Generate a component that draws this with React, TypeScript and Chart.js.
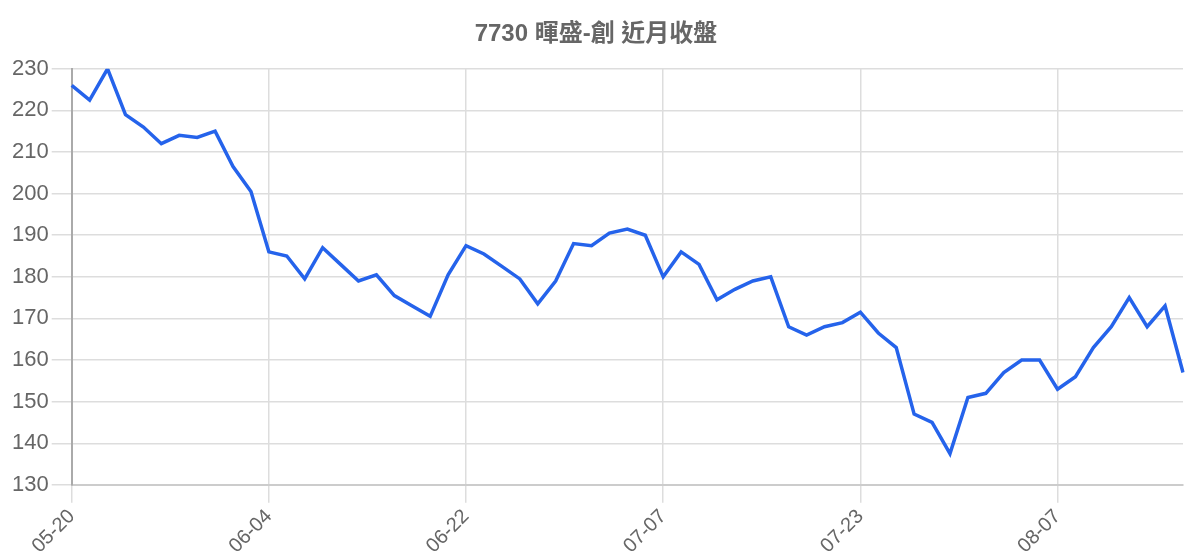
import { useEffect, useRef } from "react"
import { Chart, registerables } from "chart.js"

Chart.register(...registerables)

const title = "7730 暉盛-創 近月收盤"

const dates = [
  "05-20", "05-21", "05-22", "05-23", "05-24", "05-27", "05-28", "05-29", "05-30", "05-31", "06-03",
  "06-04", "06-05", "06-06", "06-07", "06-11", "06-12", "06-13", "06-14", "06-17", "06-18", "06-19",
  "06-22", "06-24", "06-25", "06-26", "06-27", "06-28", "07-01", "07-02", "07-03", "07-04", "07-05",
  "07-07", "07-08", "07-09", "07-10", "07-11", "07-12", "07-15", "07-16", "07-17", "07-18", "07-19",
  "07-23", "07-24", "07-25", "07-26", "07-29", "07-30", "07-31", "08-01", "08-02", "08-05", "08-06",
  "08-07", "08-08", "08-09", "08-12", "08-13", "08-14", "08-15", "08-16",
]

const closes = [
  226, 222.5, 230, 219, 216, 212, 214, 213.5, 215, 206.5, 200.5,
  186, 185, 179.5, 187, 183, 179, 180.5, 175.5, 173, 170.5, 180.5,
  187.5, 185.5, 182.5, 179.5, 173.5, 179, 188, 187.5, 190.5, 191.5, 190,
  180, 186, 183, 174.5, 177, 179, 180, 168, 166, 168, 169,
  171.5, 166.5, 163, 147, 145, 137.5, 151, 152, 157, 160, 160,
  153, 156, 163, 168, 175, 168, 173, 157,
]

const labelEvery = 11
const yMin = 130
const yMax = 230

const fontFamily = "'Liberation Sans', Arial, 'Noto Sans CJK TC', sans-serif"

export default function App() {
  const chartRef = useRef<HTMLCanvasElement>(null)
  const chartInstance = useRef<Chart | null>(null)

  useEffect(() => {
    document.body.style.margin = "0"
    const canvas = chartRef.current
    if (!canvas) return
    const ctx = canvas.getContext("2d")
    if (!ctx) return

    if (chartInstance.current) {
      chartInstance.current.destroy()
    }

    chartInstance.current = new Chart(ctx, {
      type: "line",
      data: {
        labels: dates,
        datasets: [
          {
            label: "收盤",
            data: closes,
            borderColor: "#2563eb",
            borderWidth: 3.5,
            pointRadius: 0,
            tension: 0,
            fill: false,
          },
        ],
      },
      options: {
        responsive: true,
        maintainAspectRatio: false,
        animation: false,
        layout: {
          padding: { left: 9, right: 17, top: 0, bottom: 0 },
        },
        plugins: {
          legend: { display: false },
          tooltip: { enabled: false },
          title: {
            display: true,
            text: title,
            color: "#666",
            font: { family: fontFamily, size: 24, weight: "bold" },
            padding: { top: 20, bottom: 20 },
          },
        },
        scales: {
          x: {
            ticks: {
              color: "#666",
              font: { family: fontFamily, size: 20 },
              autoSkip: false,
              maxRotation: 45,
              minRotation: 45,
              padding: 2,
              callback: (_v, i) => (i % labelEvery === 0 ? dates[i] : null),
            },
            grid: {
              color: "#dddddd",
              lineWidth: 1.5,
              tickLength: 18,
            },
            border: { color: "#cccccc", width: 2 },
          },
          y: {
            min: yMin,
            max: yMax,
            ticks: {
              stepSize: 10,
              color: "#666",
              font: { family: fontFamily, size: 22 },
              padding: 3,
            },
            grid: {
              color: "#dddddd",
              lineWidth: 1.5,
              tickLength: 20,
            },
            border: { color: "#aaaaaa", width: 2 },
          },
        },
      },
    })

    return () => {
      if (chartInstance.current) {
        chartInstance.current.destroy()
        chartInstance.current = null
      }
    }
  }, [])

  return (
    <div style={{ width: 1200, height: 560, position: "relative", background: "#fff" }}>
      <canvas ref={chartRef}></canvas>
    </div>
  )
}
